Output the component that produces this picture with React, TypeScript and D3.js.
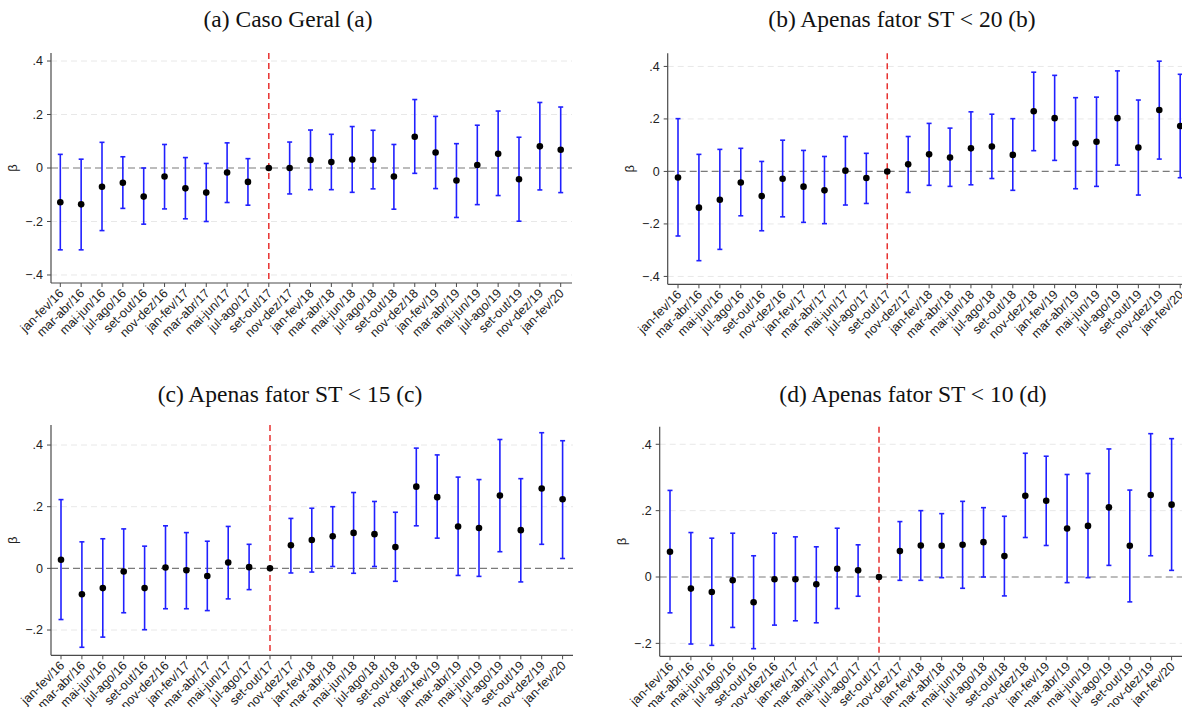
import React from 'react';
import * as d3 from 'd3';

// period labels (bimonthly)
const periods = [
  'jan-fev/16', 'mar-abr/16', 'mai-jun/16', 'jul-ago/16', 'set-out/16', 'nov-dez/16',
  'jan-fev/17', 'mar-abr/17', 'mai-jun/17', 'jul-ago/17', 'set-out/17', 'nov-dez/17',
  'jan-fev/18', 'mar-abr/18', 'mai-jun/18', 'jul-ago/18', 'set-out/18', 'nov-dez/18',
  'jan-fev/19', 'mar-abr/19', 'mai-jun/19', 'jul-ago/19', 'set-out/19', 'nov-dez/19',
  'jan-fev/20',
];
const refPeriod = 'set-out/17';
const yTicks = [-0.4, -0.2, 0, 0.2, 0.4];

// (a) Caso Geral
const coefA = [-0.128, -0.136, -0.070, -0.055, -0.107, -0.032, -0.076, -0.092, -0.017, -0.052, 0,
  0.000, 0.030, 0.022, 0.032, 0.031, -0.032, 0.117, 0.058, -0.047, 0.011, 0.053, -0.042, 0.081, 0.068];
const hiA = [0.051, 0.033, 0.096, 0.042, 0.000, 0.088, 0.039, 0.017, 0.094, 0.035, 0,
  0.097, 0.142, 0.126, 0.155, 0.141, 0.088, 0.256, 0.193, 0.091, 0.160, 0.213, 0.115, 0.245, 0.228];
const loA = [-0.306, -0.306, -0.234, -0.151, -0.210, -0.153, -0.190, -0.200, -0.129, -0.139, 0,
  -0.097, -0.081, -0.081, -0.091, -0.078, -0.154, -0.020, -0.077, -0.185, -0.137, -0.103, -0.199, -0.082, -0.092];

// (b) ST < 20
const coefB = [-0.023, -0.138, -0.108, -0.042, -0.094, -0.028, -0.058, -0.072, 0.003, -0.025, 0,
  0.027, 0.065, 0.053, 0.088, 0.095, 0.063, 0.229, 0.203, 0.107, 0.113, 0.203, 0.091, 0.234, 0.173];
const hiB = [0.201, 0.065, 0.084, 0.088, 0.038, 0.119, 0.080, 0.057, 0.133, 0.069, 0,
  0.133, 0.183, 0.165, 0.227, 0.218, 0.201, 0.378, 0.366, 0.281, 0.283, 0.383, 0.272, 0.420, 0.370];
const loB = [-0.246, -0.340, -0.297, -0.169, -0.226, -0.173, -0.194, -0.199, -0.128, -0.122, 0,
  -0.080, -0.053, -0.057, -0.051, -0.027, -0.072, 0.079, 0.042, -0.066, -0.057, 0.024, -0.090, 0.047, -0.024];

// (c) ST < 15
const coefC = [0.028, -0.084, -0.064, -0.010, -0.064, 0.003, -0.006, -0.025, 0.019, 0.004, 0,
  0.075, 0.092, 0.104, 0.115, 0.111, 0.069, 0.265, 0.231, 0.136, 0.131, 0.236, 0.124, 0.259, 0.224];
const hiC = [0.223, 0.086, 0.096, 0.128, 0.072, 0.138, 0.116, 0.088, 0.136, 0.078, 0,
  0.162, 0.195, 0.200, 0.246, 0.217, 0.182, 0.390, 0.368, 0.296, 0.288, 0.418, 0.291, 0.440, 0.414];
const loC = [-0.166, -0.256, -0.223, -0.144, -0.199, -0.131, -0.131, -0.137, -0.099, -0.069, 0,
  -0.015, -0.012, 0.006, -0.016, 0.006, -0.042, 0.138, 0.098, -0.023, -0.026, 0.054, -0.044, 0.078, 0.032];

// (d) ST < 10
const coefD = [0.076, -0.035, -0.045, -0.010, -0.076, -0.007, -0.007, -0.022, 0.025, 0.020, 0,
  0.078, 0.095, 0.094, 0.097, 0.105, 0.063, 0.245, 0.230, 0.146, 0.154, 0.210, 0.094, 0.247, 0.218];
const hiD = [0.261, 0.134, 0.117, 0.132, 0.064, 0.132, 0.121, 0.091, 0.147, 0.097, 0,
  0.167, 0.200, 0.191, 0.228, 0.209, 0.183, 0.373, 0.364, 0.309, 0.312, 0.386, 0.262, 0.432, 0.417];
const loD = [-0.108, -0.202, -0.206, -0.152, -0.216, -0.145, -0.132, -0.138, -0.095, -0.058, 0,
  -0.010, -0.010, -0.002, -0.034, 0.000, -0.057, 0.119, 0.095, -0.017, -0.002, 0.035, -0.075, 0.064, 0.020];

const panels = [
  { title: '(a) Caso Geral (a)', titleX: 288, titleY: 27, coef: coefA, lo: loA, hi: hiA,
    left: 51, right: 572, x0: 60.3, x1: 560.7, top: 53, bottom: 283, ymin: -0.43, ymax: 0.43 },
  { title: '(b) Apenas fator ST < 20 (b)', titleX: 902, titleY: 27, coef: coefB, lo: loB, hi: hiB,
    left: 667.7, right: 1192, x0: 678, x1: 1180.2, top: 53.3, bottom: 284.3, ymin: -0.43, ymax: 0.45 },
  { title: '(c) Apenas fator ST < 15 (c)', titleX: 290, titleY: 402, coef: coefC, lo: loC, hi: hiC,
    left: 51, right: 573, x0: 61, x1: 562.6, top: 425, bottom: 655.3, ymin: -0.282, ymax: 0.465 },
  { title: '(d) Apenas fator ST < 10 (d)', titleX: 913, titleY: 402, coef: coefD, lo: loD, hi: hiD,
    left: 659.7, right: 1192, x0: 670, x1: 1171.6, top: 426.7, bottom: 656.3, ymin: -0.239, ymax: 0.453 },
];

const fmt = (v: number) => (v === 0 ? '0' : d3.format('.1f')(v).replace('0.', '.'));
const sans = '"Liberation Sans", Arial, sans-serif';

function Panel({ p }: { p: typeof panels[number] }) {
  const x = d3.scalePoint<string>().domain(periods).range([p.x0, p.x1]);
  const y = d3.scaleLinear().domain([p.ymin, p.ymax]).range([p.bottom, p.top]);
  const ticks = yTicks.filter(t => t >= p.ymin && t <= p.ymax);
  const rx = x(refPeriod)!;
  return (
    <g>
      <text x={p.titleX} y={p.titleY} textAnchor="middle" fontFamily='"Liberation Serif", "Times New Roman", serif'
        fontSize={23.5} fill="#111">{p.title}</text>
      {/* grid */}
      {ticks.filter(t => t !== 0).map(t => (
        <line key={t} x1={p.left} x2={p.right} y1={y(t)} y2={y(t)} stroke="#e8e8e8" strokeWidth={1} strokeDasharray="6,4" />
      ))}
      <line x1={p.left} x2={p.right} y1={y(0)} y2={y(0)} stroke="#7a7a7a" strokeWidth={1.2} strokeDasharray="7,4" />
      <line x1={rx} x2={rx} y1={p.top} y2={p.bottom} stroke="#e8312f" strokeWidth={1.5} strokeDasharray="6,4" />
      {/* axes */}
      <line x1={p.left} x2={p.left} y1={p.top} y2={p.bottom} stroke="#4a4a4a" strokeWidth={1.2} />
      <line x1={p.left} x2={p.right} y1={p.bottom} y2={p.bottom} stroke="#4a4a4a" strokeWidth={1.2} />
      {ticks.map(t => (
        <g key={t}>
          <line x1={p.left - 4} x2={p.left} y1={y(t)} y2={y(t)} stroke="#4a4a4a" strokeWidth={1} />
          <text x={p.left - 8} y={y(t)} dy="0.35em" textAnchor="end" fontFamily={sans} fontSize={12.5} fill="#222">{fmt(t)}</text>
        </g>
      ))}
      <text transform={`translate(${p.left - 34},${(p.top + p.bottom) / 2}) rotate(-90)`} textAnchor="middle"
        fontFamily={sans} fontSize={13} fill="#222">β</text>
      {periods.map(c => (
        <g key={c} transform={`translate(${x(c)},${p.bottom})`}>
          <line y1={0} y2={4} stroke="#4a4a4a" strokeWidth={1} />
          <text transform="translate(1,8) rotate(-45)" textAnchor="end" dy="0.35em" fontFamily={sans} fontSize={12.5} fill="#222">{c}</text>
        </g>
      ))}
      {/* error bars */}
      {periods.map((c, i) => c === refPeriod ? null : (
        <g key={c} stroke="#2020ff" strokeWidth={1.6}>
          <line x1={x(c)} x2={x(c)} y1={y(p.lo[i])} y2={y(p.hi[i])} />
          <line x1={x(c)! - 2.5} x2={x(c)! + 2.5} y1={y(p.lo[i])} y2={y(p.lo[i])} />
          <line x1={x(c)! - 2.5} x2={x(c)! + 2.5} y1={y(p.hi[i])} y2={y(p.hi[i])} />
        </g>
      ))}
      {periods.map((c, i) => (
        <circle key={c} cx={x(c)} cy={y(p.coef[i])} r={3.3} fill="#000" />
      ))}
    </g>
  );
}

export default function App() {
  return (
    <svg width={1182} height={707} style={{ position: 'absolute', left: 0, top: 0, background: '#fff' }}>
      <rect width={1182} height={707} fill="#fff" />
      {panels.map(p => <Panel key={p.title} p={p} />)}
    </svg>
  );
}
